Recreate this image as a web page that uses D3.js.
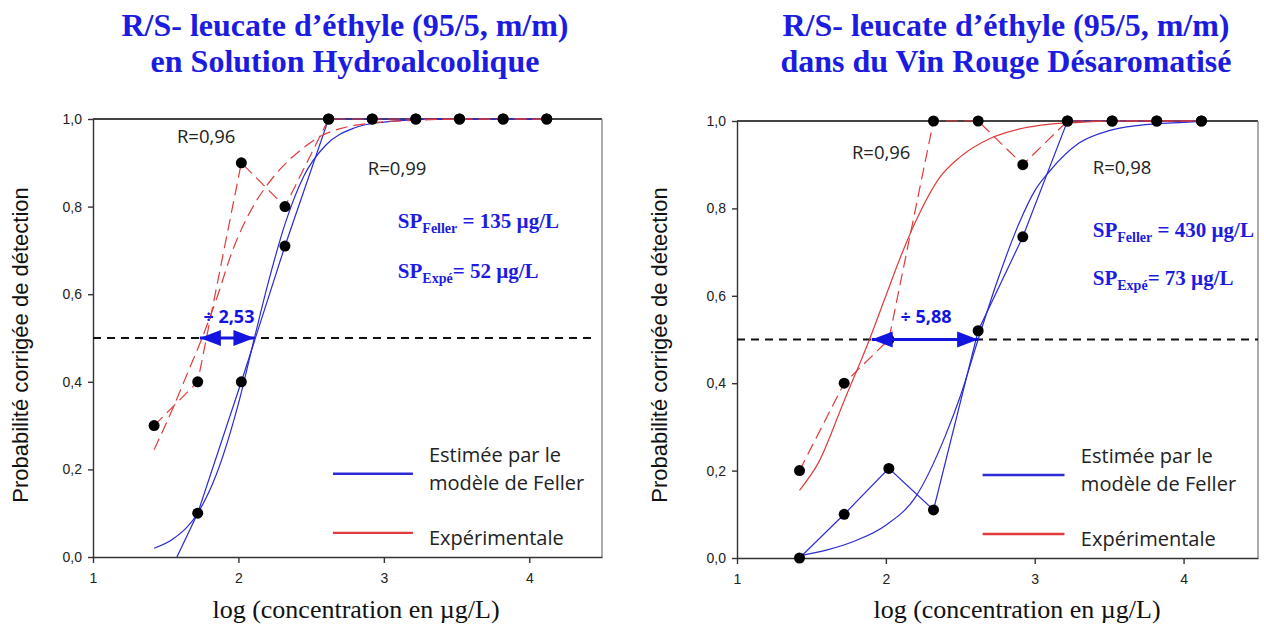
<!DOCTYPE html>
<html lang="fr">
<head>
<meta charset="utf-8">
<title>Seuil de perception – leucate d'éthyle</title>
<script src="https://cdn.jsdelivr.net/npm/d3@7"></script>
<style>
  html, body { margin: 0; padding: 0; background: #fff; }
  svg { display: block; }
  .axis text { font-family: "Liberation Sans", Arial, sans-serif; font-size: 14px; fill: #222; }
  .axis path, .axis line { stroke: #333; stroke-width: 1.4; }
</style>
</head>
<body>
<svg id="chart" width="1264" height="635"></svg>
<script>
// log10 of the tested concentrations (µg/L), same series in both panels
const logConc = [1.42, 1.72, 2.02, 2.32, 2.62, 2.92, 3.22, 3.52, 3.82, 4.12];

const xTicks = [1, 2, 3, 4];
const yTicks = [0, 0.2, 0.4, 0.6, 0.8, 1.0];

// --- panel 1 : solution hydroalcoolique
const hydroTitle = ["R/S- leucate d’éthyle (95/5, m/m)", "en Solution Hydroalcoolique"];
const hydroExp = [0.30, 0.40, 0.90, 0.80, 1, 1, 1, 1, 1, 1];
const hydroFeller = [-0.11, 0.10, 0.40, 0.71, 1, 1, 1, 1, 1, 1];
const hydroExpFitX = [1.42, 1.55, 1.65, 1.75, 1.85, 1.96, 2.10, 2.19, 2.30, 2.45, 2.56, 2.70, 2.90, 3.20, 3.60, 4.12];
const hydroExpFitY = [0.245, 0.34, 0.42, 0.50, 0.59, 0.70, 0.80, 0.846, 0.89, 0.935, 0.96, 0.978, 0.99, 0.997, 1.0, 1.0];
const hydroFellerFitX = [1.42, 1.55, 1.72, 1.85, 2.00, 2.11, 2.20, 2.32, 2.45, 2.60, 2.80, 3.00, 3.30, 3.60, 4.12];
const hydroFellerFitY = [0.02, 0.041, 0.10, 0.19, 0.35, 0.50, 0.62, 0.76, 0.87, 0.94, 0.98, 0.993, 0.999, 1.0, 1.0];
const hydroR = ["R=0,96", "R=0,99"];
const hydroSP = ["135", "52"];
const hydroRatio = "÷ 2,53";
const hydroArrow = [1.735, 2.11];

// --- panel 2 : vin rouge désaromatisé
const wineTitle = ["R/S- leucate d’éthyle (95/5, m/m)", "dans du Vin Rouge Désaromatisé"];
const wineExp = [0.20, 0.40, 0.50, 1.0, 1.0, 0.90, 1, 1, 1, 1];
const wineFeller = [0.0, 0.10, 0.205, 0.11, 0.52, 0.735, 1, 1, 1, 1];
const wineExpFitX = [1.42, 1.55, 1.72, 1.89, 2.00, 2.10, 2.20, 2.36, 2.50, 2.70, 2.90, 3.03, 3.30, 3.60, 4.12];
const wineExpFitY = [0.155, 0.22, 0.36, 0.50, 0.60, 0.69, 0.77, 0.87, 0.918, 0.96, 0.982, 0.99, 0.997, 1.0, 1.0];
const wineFellerFitX = [1.42, 1.60, 1.80, 2.00, 2.20, 2.40, 2.50, 2.62, 2.75, 2.90, 3.00, 3.10, 3.30, 3.50, 3.70, 4.00, 4.12];
const wineFellerFitY = [0.005, 0.018, 0.04, 0.075, 0.14, 0.28, 0.37, 0.50, 0.635, 0.77, 0.84, 0.885, 0.95, 0.978, 0.99, 0.997, 0.999];
const wineR = ["R=0,96", "R=0,98"];
const wineSP = ["430", "73"];
const wineRatio = "÷ 5,88";
const wineArrow = [1.905, 2.62];

const legendLabels = [["Estimée par le", "modèle de Feller"], ["Expérimentale"]];

const BLUE = "#2a2ad6";
const RED = "#e23a3a";
const TITLE_BLUE = "#1c1ce0";

const fmt = d3.formatLocale({ decimal: ",", thousands: " ", grouping: [3], currency: ["", "€"] }).format(".1f");

const svg = d3.select("#chart");

// arrow heads for the ÷ annotation
svg.append("defs").append("marker")
  .attr("id", "head")
  .attr("markerUnits", "userSpaceOnUse")
  .attr("markerWidth", 22).attr("markerHeight", 18)
  .attr("viewBox", "0 0 22 18")
  .attr("refX", 21).attr("refY", 9)
  .attr("orient", "auto-start-reverse")
  .append("path")
  .attr("d", "M0,1 L21,9 L0,17 Z")
  .attr("fill", "#1414e0");

const panels = [
  {
    id: "hydro", left: 93, right: 602, top: 119, bottom: 557, cx: 345, yLabelX: 28, hLineEnd: 4.43,
    title: hydroTitle, exp: hydroExp, feller: hydroFeller,
    expFit: d3.zip(hydroExpFitX, hydroExpFitY), fellerFit: d3.zip(hydroFellerFitX, hydroFellerFitY),
    expFitDashed: true, r: hydroR, sp: hydroSP, ratio: hydroRatio, arrow: hydroArrow,
    rPos: [[1.577, 0.946], [2.89, 0.873]], spX: 3.096, spY: [0.752, 0.638], ratioPos: [1.935, 0.535]
  },
  {
    id: "wine", left: 737, right: 1258, top: 121, bottom: 558, cx: 1006, yLabelX: 667, hLineEnd: 4.5,
    title: wineTitle, exp: wineExp, feller: wineFeller,
    expFit: d3.zip(wineExpFitX, wineExpFitY), fellerFit: d3.zip(wineFellerFitX, wineFellerFitY),
    expFitDashed: false, r: wineR, sp: wineSP, ratio: wineRatio, arrow: wineArrow,
    rPos: [[1.772, 0.913], [3.39, 0.879]], spX: 3.39, spY: [0.735, 0.625], ratioPos: [2.27, 0.538]
  }
];

panels.forEach(drawPanel);

function drawPanel(p) {
  const x = d3.scaleLinear().domain([1, 4.5]).range([p.left, p.right]);
  const y = d3.scaleLinear().domain([0, 1]).range([p.bottom, p.top]);
  const g = svg.append("g").attr("class", "panel " + p.id);

  // title
  g.selectAll("text.title").data(p.title).enter().append("text")
    .attr("class", "title")
    .attr("x", p.cx).attr("y", (d, i) => 36 + i * 36)
    .attr("text-anchor", "middle")
    .attr("font-family", "'Liberation Serif', 'Times New Roman', serif")
    .attr("font-weight", "bold").attr("font-size", 32)
    .attr("fill", TITLE_BLUE)
    .text(d => d);

  // frame: top + right border
  g.append("line").attr("x1", x(1)).attr("x2", x(4.5)).attr("y1", y(1)).attr("y2", y(1))
    .attr("stroke", "#444").attr("stroke-width", 1.8);
  g.append("line").attr("x1", x(4.5)).attr("x2", x(4.5)).attr("y1", y(1)).attr("y2", y(0))
    .attr("stroke", "#888").attr("stroke-width", 1.4);

  // axes
  g.append("g").attr("class", "axis")
    .attr("transform", `translate(0,${y(0)})`)
    .call(d3.axisBottom(x).tickValues(xTicks).tickFormat(d3.format("d")).tickSize(6).tickSizeOuter(0).tickPadding(10));
  g.append("g").attr("class", "axis")
    .attr("transform", `translate(${x(1)},0)`)
    .call(d3.axisLeft(y).tickValues(yTicks).tickFormat(fmt).tickSize(5).tickSizeOuter(0).tickPadding(6));

  // axis titles
  g.append("text")
    .attr("transform", `translate(${p.yLabelX},345) rotate(-90)`)
    .attr("text-anchor", "middle")
    .attr("font-family", "'Liberation Sans', Arial, sans-serif").attr("font-size", 22)
    .attr("fill", "#111")
    .text("Probabilité corrigée de détection");
  g.append("text")
    .attr("x", p.cx + 11).attr("y", 618)
    .attr("text-anchor", "middle")
    .attr("font-family", "'Liberation Serif', 'Times New Roman', serif").attr("font-size", 26)
    .attr("fill", "#111")
    .text("log (concentration en µg/L)");

  // 50 % line
  g.append("line")
    .attr("x1", x(1)).attr("x2", x(p.hLineEnd)).attr("y1", y(0.5)).attr("y2", y(0.5))
    .attr("stroke", "#111").attr("stroke-width", 1.8).attr("stroke-dasharray", "8,6");

  // curves, clipped to the plot area
  g.append("clipPath").attr("id", "clip-" + p.id).append("rect")
    .attr("x", x(1)).attr("y", y(1) - 3).attr("width", x(4.5) - x(1)).attr("height", y(0) - y(1) + 3);
  const plot = g.append("g").attr("clip-path", `url(#clip-${p.id})`);

  const line = d3.line().x(d => x(d[0])).y(d => y(d[1]));
  const smooth = d3.line().x(d => x(d[0])).y(d => y(d[1])).curve(d3.curveMonotoneX);

  plot.append("path").datum(p.fellerFit).attr("d", smooth)
    .attr("fill", "none").attr("stroke", BLUE).attr("stroke-width", 1.2);
  plot.append("path").datum(d3.zip(logConc, p.feller)).attr("d", line)
    .attr("fill", "none").attr("stroke", BLUE).attr("stroke-width", 1.2);
  plot.append("path").datum(p.expFit).attr("d", smooth)
    .attr("fill", "none").attr("stroke", RED).attr("stroke-width", 1.2)
    .attr("stroke-dasharray", p.expFitDashed ? "12,6" : null);
  plot.append("path").datum(d3.zip(logConc, p.exp)).attr("d", line)
    .attr("fill", "none").attr("stroke", RED).attr("stroke-width", 1.2)
    .attr("stroke-dasharray", "12,6");

  // points
  const pts = d3.zip(logConc, p.exp).concat(d3.zip(logConc, p.feller)).filter(d => d[1] >= 0);
  g.selectAll("circle.pt").data(pts).enter().append("circle")
    .attr("class", "pt")
    .attr("cx", d => x(d[0])).attr("cy", d => y(d[1])).attr("r", 5.5)
    .attr("fill", "#000");

  // ÷ arrow
  g.append("line")
    .attr("x1", x(p.arrow[0])).attr("x2", x(p.arrow[1])).attr("y1", y(0.5)).attr("y2", y(0.5))
    .attr("stroke", "#1414e0").attr("stroke-width", 3)
    .attr("marker-start", "url(#head)").attr("marker-end", "url(#head)");
  g.append("text")
    .attr("x", x(p.ratioPos[0])).attr("y", y(p.ratioPos[1]))
    .attr("text-anchor", "middle")
    .attr("font-family", "'Open Sans', sans-serif").attr("font-weight", "bold").attr("font-size", 18)
    .attr("fill", "#1414e0")
    .text(p.ratio);

  // R labels
  g.selectAll("text.rlab").data(p.r).enter().append("text")
    .attr("class", "rlab")
    .attr("x", (d, i) => x(p.rPos[i][0])).attr("y", (d, i) => y(p.rPos[i][1]))
    .attr("font-family", "'Open Sans', sans-serif").attr("font-size", 18.5)
    .attr("fill", "#222")
    .text(d => d);

  // SP values
  const spSub = ["Feller", "Expé"];
  const spRest = [" = " + p.sp[0] + " µg/L", "= " + p.sp[1] + " µg/L"];
  p.sp.forEach((v, i) => {
    const t = g.append("text")
      .attr("x", x(p.spX)).attr("y", y(p.spY[i]))
      .attr("font-family", "'Liberation Serif', 'Times New Roman', serif")
      .attr("font-weight", "bold").attr("font-size", 21)
      .attr("fill", TITLE_BLUE);
    t.append("tspan").text("SP");
    t.append("tspan").attr("dy", 5).attr("font-size", 14).text(spSub[i]);
    t.append("tspan").attr("dy", -5).text(spRest[i]);
  });

  // legend
  const legColors = [BLUE, RED];
  const legLineY = [0.19, 0.055];
  const legTextY = [[0.217, 0.153], [0.027]];
  legendLabels.forEach((lines, i) => {
    g.append("line")
      .attr("x1", x(2.65)).attr("x2", x(3.2)).attr("y1", y(legLineY[i])).attr("y2", y(legLineY[i]))
      .attr("stroke", legColors[i]).attr("stroke-width", 2.4);
    lines.forEach((s, j) => {
      g.append("text")
        .attr("x", x(3.31)).attr("y", y(legTextY[i][j]))
        .attr("font-family", "'Open Sans', sans-serif").attr("font-size", 20)
        .attr("fill", "#222")
        .text(s);
    });
  });
}
</script>
</body>
</html>
